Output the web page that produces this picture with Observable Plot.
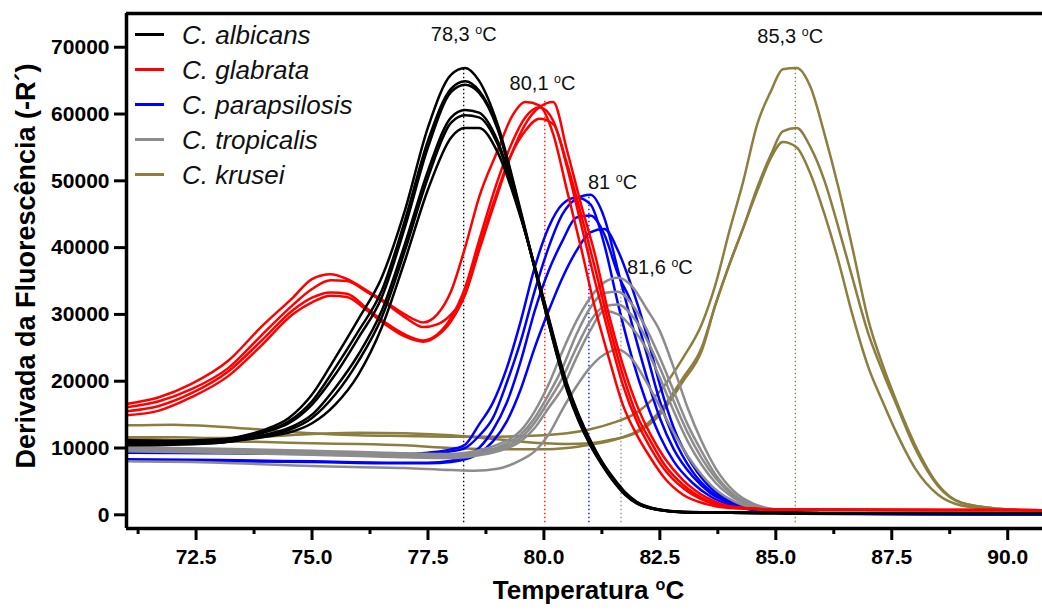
<!DOCTYPE html>
<html><head><meta charset="utf-8">
<script src="https://cdn.jsdelivr.net/npm/d3@7"></script>
<script src="https://cdn.jsdelivr.net/npm/@observablehq/plot@0.6"></script>
<style>body{margin:0;background:#fff}</style>
</head><body><div id="chart"></div>
<script>
const species = ["C. albicans", "C. glabrata", "C. parapsilosis", "C. tropicalis", "C. krusei"];
const speciesColors = ["#000000", "#ff0000", "#0000ff", "#8c8c8c", "#8c7e3e"];

// C. albicans
const albicansT = [71, 72, 73, 73.5, 74, 74.5, 75, 75.5, 76, 76.5, 77, 77.5, 78, 78.3, 78.6, 79, 79.5, 80, 80.5, 80.75, 81, 81.25, 81.5, 81.75, 82, 82.5, 83, 84, 86, 90.75];
const albicans1 = [11000, 10900, 11200, 11800, 12800, 14500, 18000, 23500, 29300, 35500, 45500, 58000, 65900, 66900, 65000, 58500, 45500, 31500, 18600, 14000, 10400, 7500, 5000, 3000, 1700, 700, 400, 300, 250, 250];
const albicans2 = [11200, 11100, 11300, 11700, 12500, 14000, 17000, 22000, 27500, 33500, 44000, 56000, 63800, 64900, 63500, 58000, 45200, 31400, 18800, 14200, 10500, 7600, 5100, 3100, 1750, 700, 400, 300, 250, 250];
const albicans3 = [10800, 10800, 11000, 11600, 12400, 13700, 16500, 21000, 26500, 32500, 43000, 55000, 63300, 64400, 63200, 57800, 45000, 31600, 19000, 14400, 10700, 7700, 5200, 3150, 1800, 720, 400, 300, 250, 250];
const albicans4 = [10600, 10600, 10900, 11400, 12000, 13000, 15000, 19000, 24000, 30500, 40500, 51500, 59500, 60600, 60200, 56000, 44800, 31800, 19200, 14600, 10900, 7800, 5300, 3200, 1850, 740, 420, 300, 250, 250];
const albicans5 = [10400, 10500, 10800, 11300, 11900, 12700, 14500, 18000, 23000, 29500, 39500, 50500, 58700, 59800, 59500, 55500, 44700, 32000, 19400, 14800, 11000, 7900, 5400, 3300, 1900, 760, 430, 300, 250, 250];
const albicans6 = [10600, 10600, 10800, 11200, 11700, 12300, 13700, 16500, 21000, 28000, 38000, 48700, 56500, 57900, 57900, 54300, 44500, 32200, 19600, 15000, 11200, 8000, 5500, 3400, 1950, 780, 440, 300, 250, 250];

// C. glabrata
const glabrataT = [71, 71.7, 72.4, 73.2, 73.9, 74.6, 75.0, 75.4, 75.75, 76.2, 76.6, 77.0, 77.4, 77.7, 78.0, 78.3, 78.6, 79.0, 79.3, 79.6, 79.9, 80.2, 80.5, 80.8, 81.1, 81.4, 81.7, 82.0, 82.3, 82.6, 83.0, 83.5, 84.0, 85.0, 90.75];
const glabrata1 = [16600, 17600, 19600, 23100, 28100, 32600, 35300, 36000, 35300, 33500, 31800, 30000, 28800, 30000, 33500, 40000, 47500, 54500, 59500, 61800, 61300, 57000, 48500, 40000, 31000, 23500, 16500, 12000, 8500, 5500, 3000, 1600, 1000, 800, 700];
const glabrata2 = [16100, 17000, 18800, 22000, 26800, 31500, 33800, 35100, 35000, 33300, 31600, 29600, 28100, 28500, 30000, 33000, 39500, 48000, 54000, 58500, 61000, 61800, 54500, 46500, 39000, 30000, 22500, 16500, 12000, 8500, 5200, 2600, 1300, 800, 700];
const glabrata3 = [15500, 16300, 18200, 21500, 26000, 30700, 32500, 33300, 33100, 30800, 28700, 27000, 26100, 27000, 29500, 34000, 41000, 50000, 55500, 59500, 61000, 59000, 52000, 43500, 35000, 27000, 19500, 14000, 10000, 6800, 4000, 2000, 1100, 800, 700];
const glabrata4 = [14900, 15600, 17600, 20800, 25300, 30100, 31800, 32800, 32600, 30500, 28400, 26700, 25900, 26800, 29000, 33000, 40000, 48500, 54000, 57500, 59300, 58500, 52500, 45000, 37000, 28500, 21000, 15000, 11000, 7500, 4500, 2200, 1200, 800, 700];

// C. parapsilosis
const parapsilosisT = [71, 73, 75, 77, 77.5, 78, 78.3, 78.6, 78.9, 79.2, 79.5, 79.8, 80.1, 80.4, 80.7, 81.0, 81.3, 81.6, 81.9, 82.2, 82.5, 82.8, 83.2, 83.6, 84.0, 84.5, 85.5, 90.75];
const parapsilosis1 = [9500, 9400, 9300, 9100, 9300, 9800, 10500, 13500, 16800, 22000, 29000, 37000, 43000, 46500, 47500, 46500, 40500, 31500, 23500, 17000, 11800, 8000, 4800, 2700, 1500, 700, 150, 50];
const parapsilosis2 = [9300, 9200, 9100, 8900, 9000, 9500, 10000, 11800, 14500, 19800, 26000, 33500, 40000, 45000, 47300, 47900, 44500, 36500, 28500, 21000, 14500, 9800, 5800, 3200, 1800, 800, 150, 50];
const parapsilosis3 = [8300, 8200, 8000, 7800, 7800, 8100, 8700, 10000, 12700, 16800, 23000, 30500, 36500, 41000, 44500, 44800, 42000, 36000, 31500, 24500, 17000, 11500, 6500, 3500, 1900, 900, 200, 50];
const parapsilosis4 = [8100, 8000, 7900, 7700, 7700, 7900, 8300, 9200, 11000, 14000, 18800, 25000, 30500, 35500, 39500, 42300, 42800, 39500, 34000, 27400, 19500, 13000, 7500, 4000, 2100, 1000, 200, 50];

// C. tropicalis
const tropicalisT = [71, 73, 75, 77, 78, 78.5, 79, 79.5, 79.8, 80.1, 80.4, 80.7, 81.0, 81.3, 81.6, 81.9, 82.2, 82.5, 82.8, 83.1, 83.4, 83.7, 84.1, 84.5, 85.0, 86.0, 90.75];
const tropicalis1 = [10100, 9900, 9600, 9200, 9100, 9500, 10500, 12600, 15500, 19500, 24500, 29000, 32500, 34800, 35500, 34200, 31000, 27500, 22000, 16000, 11000, 7000, 3500, 1700, 800, 400, 300];
const tropicalis2 = [9900, 9700, 9400, 9000, 8900, 9200, 10100, 12000, 14500, 18000, 22000, 27000, 31000, 33200, 33400, 31500, 28000, 23500, 18500, 13500, 9500, 6000, 3000, 1500, 700, 400, 300];
const tropicalis3 = [9700, 9500, 9200, 8800, 8700, 9000, 9800, 11500, 13800, 17000, 20500, 25000, 29000, 31200, 31500, 29800, 26500, 22000, 17000, 12300, 8500, 5500, 2800, 1400, 700, 400, 300];
const tropicalis4 = [9500, 9300, 9000, 8600, 8500, 8800, 9500, 11000, 13000, 16000, 19000, 23500, 27600, 30500, 30000, 28000, 25000, 20500, 15500, 11000, 7500, 4800, 2500, 1200, 600, 350, 300];
const tropicalis5 = [8000, 7800, 7300, 7000, 6700, 6600, 6900, 8200, 9500, 12000, 15800, 19200, 22100, 24000, 24700, 23300, 20000, 16200, 12300, 8800, 6000, 3800, 2000, 1000, 500, 350, 300];

// C. krusei
const kruseiT = [71, 72, 73, 74, 75, 76, 77, 78, 79, 80, 80.5, 81, 81.5, 82, 82.5, 83, 83.4, 83.7, 84, 84.3, 84.6, 84.9, 85.15, 85.45, 85.75, 86.05, 86.35, 86.65, 87, 87.3, 87.6, 88, 88.5, 89, 89.8, 90.75];
const krusei1 = [13400, 13500, 13200, 12700, 12200, 11900, 11800, 11700, 11700, 11900, 12200, 12800, 13800, 15300, 18500, 23500, 28500, 34500, 42500, 50000, 58500, 63500, 66700, 66900, 64000, 57000, 49000, 40000, 29000, 22500, 17000, 10500, 4500, 1800, 900, 600];
const krusei2 = [11600, 11600, 11500, 11700, 12100, 12300, 12200, 11900, 11300, 10700, 10600, 10700, 11300, 12300, 15000, 20000, 24500, 31500, 37500, 43000, 49000, 54000, 57400, 57900, 55000, 50000, 43000, 35500, 27000, 21500, 16500, 10000, 4300, 1800, 900, 600];
const krusei3 = [11400, 11200, 11000, 10900, 10700, 10600, 10400, 10000, 9800, 9800, 10000, 10500, 11200, 12500, 15500, 20500, 25000, 31500, 37500, 43000, 48500, 53500, 55800, 55000, 51000, 45000, 38000, 30000, 22000, 17000, 12300, 7000, 3000, 1400, 800, 600];

// melting temperatures (dotted lines) and their labels
const tmX = [78.27, 80.02, 80.97, 81.66, 85.42];
const tmTop = [66900, 62000, 47900, 35500, 66900];
const tmBottom = -1200;
const tmLabels = ["78,3 ºC", "80,1 ºC", "81 ºC", "81,6 ºC", "85,3 ºC"];
const tmLabelX = [78.27, 79.97, 81.48, 82.5, 85.31];
const tmLabelY = [71900, 64500, 49750, 37000, 71600];

const xDomain = [71.0, 90.75];
const yDomain = [-2050, 75050];
const xMajorTicks = [72.5, 75, 77.5, 80, 82.5, 85, 87.5, 90];
const xMinorTicks = [71.25, 73.75, 76.25, 78.75, 81.25, 83.75, 86.25, 88.75];
const yTicks = [0, 10000, 20000, 30000, 40000, 50000, 60000, 70000];
const xLabel = "Temperatura ºC";
const yLabel = "Derivada da Fluorescência (-R´)";

const groups = [
  [species[4], kruseiT, [krusei1, krusei2, krusei3]],
  [species[2], parapsilosisT, [parapsilosis1, parapsilosis2, parapsilosis3, parapsilosis4]],
  [species[3], tropicalisT, [tropicalis1, tropicalis2, tropicalis3, tropicalis4, tropicalis5]],
  [species[1], glabrataT, [glabrata1, glabrata2, glabrata3, glabrata4]],
  [species[0], albicansT, [albicans1, albicans2, albicans3, albicans4, albicans5, albicans6]]
];
const rows = [];
for (const [sp, ts, curves] of groups) {
  curves.forEach((vals, k) => {
    vals.forEach((v, i) => rows.push({species: sp, id: sp + k, t: ts[i], v}));
  });
}
const tmData = species.map((sp, i) => ({species: sp, t: tmX[i], top: tmTop[i]}));
const labelData = tmLabels.map((s, i) => ({text: s, t: tmLabelX[i], v: tmLabelY[i]}));

const font = "'Liberation Sans', Arial, Helvetica, sans-serif";
const chart = Plot.plot({
  width: 1042, height: 610,
  marginLeft: 126, marginRight: 0, marginTop: 13, marginBottom: 82,
  style: {fontFamily: font, background: "white", color: "black"},
  x: {domain: xDomain},
  y: {domain: yDomain},
  color: {domain: species, range: speciesColors},
  marks: [
    Plot.ruleX(tmData, {x: "t", y1: tmBottom, y2: "top", stroke: "species", strokeWidth: 1.3, strokeDasharray: "1.5,2.5"}),
    Plot.line(rows, {x: "t", y: "v", z: "id", stroke: "species", strokeWidth: 2.5, curve: "monotone-x"}),
    Plot.text(labelData, {x: "t", y: "v", text: "text", fontSize: 20, fill: "#111"}),
    Plot.ruleX([xDomain[0]], {stroke: "black", strokeWidth: 3.5}),
    Plot.ruleY([yDomain[0]], {stroke: "black", strokeWidth: 3.5}),
    Plot.ruleY([yDomain[1]], {stroke: "black", strokeWidth: 3.5}),
    Plot.axisY({ticks: yTicks, tickFormat: "d", tickSize: 12, tickPadding: 5, strokeWidth: 3, fontSize: 21, fontWeight: "bold", label: null}),
    Plot.axisX({ticks: xMajorTicks, tickFormat: ".1f", tickSize: 12, tickPadding: 9, strokeWidth: 3, fontSize: 21, fontWeight: "bold", label: null}),
    Plot.axisX({ticks: xMinorTicks, tickFormat: () => "", tickSize: 6, strokeWidth: 3, label: null}),
    Plot.text([yLabel], {frameAnchor: "left", textAnchor: "middle", text: d => d, rotate: -90, dx: -100, dy: -5, fontSize: 27, fontWeight: "bold"}),
    Plot.text([xLabel], {frameAnchor: "bottom", textAnchor: "middle", text: d => d, dy: 70, dx: 4, fontSize: 26, fontWeight: "bold"})
  ]
});

const svg = d3.select(chart);
// legend inside the plot area
const color = chart.scale("color");
const lg = svg.append("g").attr("font-family", font).attr("text-anchor", "start");
species.forEach((sp, i) => {
  const y = 34.5 + 35 * i;
  lg.append("line").attr("x1", 135).attr("x2", 164).attr("y1", y).attr("y2", y)
    .attr("stroke", color.apply(sp)).attr("stroke-width", 3);
  lg.append("text").attr("x", 182).attr("y", y).attr("dy", "0.35em").attr("text-anchor", "start")
    .attr("font-size", 26).attr("font-style", "italic").attr("fill", "#111").text(sp);
});
// render "ºC" as a raised small o
svg.selectAll("text").each(function () {
  const t = this.textContent;
  if (this.childElementCount === 0 && t.includes("º")) {
    const [a, b] = t.split("º");
    const s = d3.select(this);
    s.text(null);
    s.append("tspan").text(a);
    s.append("tspan").attr("baseline-shift", "super").attr("font-size", "0.62em").text("o");
    s.append("tspan").text(b);
  }
});
document.getElementById("chart").append(chart);
</script></body></html>
